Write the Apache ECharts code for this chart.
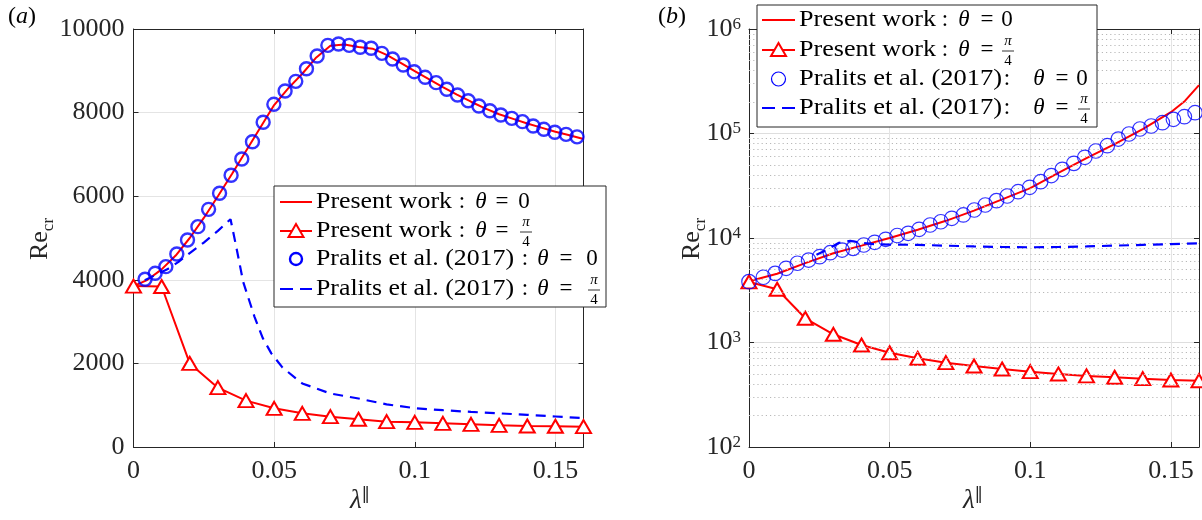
<!DOCTYPE html>
<html><head><meta charset="utf-8">
<script src="https://cdn.jsdelivr.net/npm/echarts@6/dist/echarts.min.js"></script>
<style>html,body{margin:0;padding:0;background:#fff}#c{width:1202px;height:520px}</style>
</head><body><div id="c"></div>
<script>
// ---------- tick values ----------
const xTicks = [0, 0.05, 0.1, 0.15];
const yTicksLin = [0, 2000, 4000, 6000, 8000, 10000];
const yTicksLog = [100, 1000, 10000, 100000, 1000000];
const minorLog = [200,300,400,500,600,700,800,900,2000,3000,4000,5000,6000,7000,8000,9000,
  20000,30000,40000,50000,60000,70000,80000,90000,200000,300000,400000,500000,600000,700000,800000,900000];

// ---------- panel (a) ----------
const lamRedL = [0,0.005,0.01,0.015,0.02,0.025,0.03,0.035,0.04,0.045,0.05,0.055,0.06,0.065,0.07,0.075,0.08,
  0.085,0.09,0.095,0.1,0.105,0.11,0.115,0.12,0.125,0.13,0.135,0.14,0.145,0.15,0.155,0.16];
const redL = [3850,4000,4250,4580,5000,5480,6000,6530,7080,7630,8180,8580,8930,9320,9600,9630,9570,
  9530,9380,9190,8990,8800,8610,8430,8260,8100,7960,7850,7740,7640,7540,7460,7370];
const lamTri = [0,0.01,0.02,0.03,0.04,0.05,0.06,0.07,0.08,0.09,0.1,0.11,0.12,0.13,0.14,0.15,0.16];
const triL = [3850,3840,2000,1420,1110,925,805,726,663,606,590,566,542,518,502,497,486];
const lamCircL = [0.0041,0.0077,0.0115,0.0154,0.0192,0.0229,0.0267,0.0306,0.0347,0.0385,0.0423,0.0461,0.0499,
  0.0539,0.0577,0.0615,0.0653,0.0691,0.0729,0.0767,0.0806,0.0845,0.0883,0.0921,0.0959,0.0998,0.1037,0.1076,
  0.1114,0.1152,0.1190,0.1228,0.1267,0.1306,0.1345,0.1383,0.1421,0.1459,0.1498,0.1538,0.1577];
const circL = [4012,4155,4314,4617,4952,5271,5686,6069,6500,6890,7304,7768,8198,8517,8748,9050,9354,9609,9641,
  9609,9562,9538,9418,9282,9139,8979,8844,8716,8557,8421,8285,8158,8045,7943,7863,7783,7680,7600,7530,7480,7420];
const lamDashL = [0.004,0.008,0.012,0.016,0.02,0.025,0.03,0.0345,0.0365,0.039,0.043,0.046,0.049,0.053,0.06,
  0.07,0.08,0.09,0.1,0.11,0.12,0.13,0.14,0.15,0.16];
const dashL = [3990,4120,4250,4430,4640,4890,5170,5450,4800,3950,3120,2600,2240,1900,1520,
  1280,1160,1020,930,880,840,805,770,730,690];

// ---------- panel (b) ----------
const lamRedR = [0,0.01,0.02,0.03,0.04,0.05,0.06,0.07,0.08,0.09,0.1,0.11,0.12,0.13,0.14,0.15,0.155,0.16];
const redR = [3850,4550,5750,7150,8450,10000,12000,14600,18300,23400,30000,42000,58000,79000,110000,160000,205000,290000];
const triR = [3800,3230,1706,1198,946,798,706,641,596,558,526,500,479,465,451,438,431];
const lamCircR = [0,0.0051,0.0093,0.0132,0.0172,0.0212,0.0251,0.0289,0.0331,0.037,0.0408,0.0447,0.0486,0.0527,
  0.0566,0.0605,0.0644,0.0682,0.0721,0.0762,0.0801,0.084,0.088,0.0918,0.0957,0.0998,0.1037,0.1075,0.1114,0.1155,
  0.1194,0.1233,0.1274,0.1313,0.1351,0.139,0.143,0.147,0.1509,0.1548,0.1586];
const circR = [3820,4210,4590,5130,5730,6150,6620,7230,7670,7960,8570,9100,9720,10570,11090,12110,13310,14310,
  15440,16610,18540,20700,22760,25240,27740,30550,34580,39600,45440,51830,59180,68040,76400,88530,98850,110400,
  118000,126800,136700,144800,158100];
const lamDashR = [0.024,0.028,0.032,0.036,0.04,0.045,0.05,0.06,0.07,0.08,0.09,0.1,0.11,0.12,0.13,0.14,0.15,0.16];
const dashR = [6900,7800,9000,9400,9000,8700,8650,8600,8450,8300,8200,8150,8200,8300,8450,8600,8750,8900];

const legendNames = ['Present work', 'Present work', 'Pralits et al. (2017)', 'Pralits et al. (2017)'];

// ---------- helpers ----------
const SERIF = "'Liberation Serif', 'DejaVu Serif', serif";
const RED = '#ff0000', BLUE = '#0000ff', AX = '#262626';
const zip = (xs, ys) => xs.map((x, i) => [x, ys[i]]);
const cv = document.createElement('canvas').getContext('2d');
function fitScale(s, size, target) { cv.font = size + 'px ' + SERIF; return target / cv.measureText(s).width; }

function xAx(gi, pos) {
  const bottom = pos === 'bottom';
  return {
    type: 'value', gridIndex: gi, position: pos, min: 0, max: 0.16, interval: 0.05,
    axisLine: { show: true, onZero: false, lineStyle: { color: AX, width: 1 } },
    axisTick: { show: true, inside: true, length: 5, lineStyle: { color: AX } },
    axisLabel: {
      show: bottom, margin: 11, color: AX, fontFamily: SERIF, fontSize: 26, showMaxLabel: false,
      formatter: v => (xTicks.some(t => Math.abs(t - v) < 1e-9) ? String(+v.toFixed(2)) : '')
    },
    splitLine: { show: bottom, lineStyle: { color: '#e4e4e4', width: 1 } }
  };
}
function yLin(gi, pos) {
  const left = pos === 'left';
  return {
    type: 'value', gridIndex: gi, position: pos, min: 0, max: 10000, interval: 2000,
    axisLine: { show: true, onZero: false, lineStyle: { color: AX, width: 1 } },
    axisTick: { show: true, inside: true, length: 5, lineStyle: { color: AX } },
    axisLabel: { show: left, margin: 9, color: AX, fontFamily: SERIF, fontSize: 26,
      formatter: v => (yTicksLin.includes(v) ? String(v) : '') },
    splitLine: { show: left, lineStyle: { color: '#e4e4e4', width: 1 } }
  };
}
function yLog(gi, pos) {
  const left = pos === 'left';
  return {
    type: 'log', logBase: 10, gridIndex: gi, position: pos, min: 100, max: 1000000, splitNumber: 4,
    axisLine: { show: true, onZero: false, lineStyle: { color: AX, width: 1 } },
    axisTick: { show: true, inside: true, length: 5, lineStyle: { color: AX } },
    axisLabel: {
      show: left, margin: 8, color: AX, fontFamily: SERIF, fontSize: 26,
      formatter: v => (yTicksLog.some(t => Math.abs(t - v) / t < 1e-6) ? '10{e|' + Math.round(Math.log10(v)) + '}' : ''),
      rich: { e: { fontSize: 17, fontFamily: SERIF, color: AX, verticalAlign: 'top', lineHeight: 14 } }
    },
    splitLine: { show: left, lineStyle: { color: '#dedede', width: 1 } }
  };
}

// ---------- graphics (labels + legends) ----------
const G = [];
function T(x, y, s, o) {
  o = o || {};
  const size = o.size || 23;
  G.push({ type: 'text', x: x, y: y, z: 100, scaleX: o.sx || 1, rotation: o.rot || 0,
    style: { text: s, fill: o.fill || '#000', align: o.align || 'center', verticalAlign: 'middle',
      font: (o.italic ? 'italic ' : '') + size + 'px ' + SERIF, rich: o.rich } });
}
function frac(cx, y) {
  T(cx, y - 9, 'π', { size: 15, italic: true });
  G.push({ type: 'line', z: 100, shape: { x1: cx - 6, y1: y + 1, x2: cx + 6, y2: y + 1 }, style: { stroke: '#000', lineWidth: 0.8 } });
  T(cx, y + 11, '4', { size: 15 });
}
function legend(box, rows, lx1, lx2, texts, pos, circleStyle) {
  G.push({ type: 'rect', z: 99, shape: box, style: { fill: '#fff', stroke: AX, lineWidth: 1 } });
  const mx = (lx1 + lx2) / 2;
  G.push({ type: 'line', z: 100, shape: { x1: lx1, y1: rows[0], x2: lx2, y2: rows[0] }, style: { stroke: RED, lineWidth: 2 } });
  G.push({ type: 'line', z: 100, shape: { x1: lx1, y1: rows[1], x2: lx2, y2: rows[1] }, style: { stroke: RED, lineWidth: 2 } });
  G.push({ type: 'polygon', z: 101, shape: { points: [[mx, rows[1] - 7], [mx + 7.5, rows[1] + 6], [mx - 7.5, rows[1] + 6]] },
    style: { fill: '#fff', stroke: RED, lineWidth: 2 } });
  G.push({ type: 'circle', z: 100, shape: { cx: mx, cy: rows[2], r: circleStyle.r }, style: { fill: 'none', stroke: BLUE, lineWidth: circleStyle.w } });
  G.push({ type: 'line', z: 100, shape: { x1: lx1, y1: rows[3], x2: lx2, y2: rows[3] },
    style: { stroke: BLUE, lineWidth: 2.2, lineDash: [13, 7] } });
  for (let i = 0; i < 4; i++) {
    const p = pos[i];
    T(texts.x, rows[i], legendNames[i], { align: 'left', sx: fitScale(legendNames[i], 23, p.w) });
    T(p.c, rows[i], ':');
    T(p.t, rows[i], 'θ', { italic: true });
    T(p.e, rows[i], '=');
    if (i % 2 === 0) T(p.z, rows[i], '0'); else frac(p.z, rows[i]);
  }
}

T(22, 17, '({i|a})', { size: 24, rich: { i: { fontStyle: 'italic', fontSize: 24, fontFamily: SERIF } } });
T(672, 17, '({i|b})', { size: 24, rich: { i: { fontStyle: 'italic', fontSize: 24, fontFamily: SERIF } } });
const reRich = { b: { fontSize: 26, fontFamily: SERIF, lineHeight: 30, verticalAlign: 'bottom' },
  s: { fontSize: 17, fontFamily: SERIF, lineHeight: 14, verticalAlign: 'bottom', padding: [0, 0, -4, 0] } };
T(38, 239, '{b|Re}{s|cr}', { rot: Math.PI / 2, rich: reRich, fill: AX });
T(690, 239, '{b|Re}{s|cr}', { rot: Math.PI / 2, rich: reRich, fill: AX });
const lamRich = { l: { fontSize: 27, fontStyle: 'italic', fontFamily: SERIF, lineHeight: 30 },
  p: { fontSize: 17, fontFamily: "'DejaVu Serif', serif", verticalAlign: 'top', lineHeight: 16 } };
T(360, 501, '{l|λ}{p|‖}', { rich: lamRich, fill: AX });
T(973, 501, '{l|λ}{p|‖}', { rich: lamRich, fill: AX });

legend({ x: 274, y: 186, width: 332, height: 121 }, [202, 231, 259, 289], 280, 312, { x: 316 }, [
  { w: 136, c: 462, t: 481, e: 502, z: 524 },
  { w: 136, c: 462, t: 481, e: 502, z: 526 },
  { w: 198, c: 525, t: 543, e: 566, z: 592 },
  { w: 198, c: 525, t: 543, e: 566, z: 594 }
], { r: 6, w: 2.4 });
legend({ x: 757, y: 5, width: 340, height: 122 }, [20, 50, 79, 108], 762, 795, { x: 799 }, [
  { w: 137, c: 945, t: 964, e: 987, z: 1007 },
  { w: 137, c: 945, t: 964, e: 987, z: 1008 },
  { w: 203, c: 1007, t: 1039, e: 1062, z: 1082 },
  { w: 203, c: 1007, t: 1039, e: 1062, z: 1084 }
], { r: 7, w: 1.2 });

const chart = echarts.init(document.getElementById('c'), null, { renderer: 'canvas' });
const triStyle = { symbol: 'triangle', symbolSize: [15, 13], itemStyle: { color: '#fff', borderColor: RED, borderWidth: 2 } };
chart.setOption({
  animation: false,
  backgroundColor: '#fff',
  grid: [
    { left: 133.5, top: 29, width: 450, height: 418 },
    { left: 749, top: 29, width: 450, height: 418 }
  ],
  xAxis: [xAx(0, 'bottom'), xAx(0, 'top'), xAx(1, 'bottom'), xAx(1, 'top')],
  yAxis: [yLin(0, 'left'), yLin(0, 'right'), yLog(1, 'left'), yLog(1, 'right')],
  series: [
    { type: 'line', xAxisIndex: 0, yAxisIndex: 0, data: zip(lamRedL, redL), showSymbol: false, z: 3,
      lineStyle: { color: RED, width: 2 } },
    Object.assign({ type: 'line', xAxisIndex: 0, yAxisIndex: 0, data: zip(lamTri, triL), z: 4,
      lineStyle: { color: RED, width: 2 } }, triStyle),
    { type: 'scatter', xAxisIndex: 0, yAxisIndex: 0, data: zip(lamCircL, circL), z: 5, symbol: 'circle', symbolSize: 13,
      itemStyle: { color: 'rgba(0,0,0,0)', borderColor: BLUE, borderWidth: 2.4 } },
    { type: 'line', xAxisIndex: 0, yAxisIndex: 0, data: zip(lamDashL, dashL), showSymbol: false, z: 6,
      lineStyle: { color: BLUE, width: 2.2, type: [10, 7] } },
    { type: 'line', xAxisIndex: 2, yAxisIndex: 2, data: [], z: 1, silent: true,
      markLine: { silent: true, symbol: ['none', 'none'], label: { show: false }, animation: false,
        lineStyle: { type: [1.2, 3], color: '#b8b8b8', width: 1 }, emphasis: { disabled: true },
        data: minorLog.map(v => ({ yAxis: v })) } },
    { type: 'line', xAxisIndex: 2, yAxisIndex: 2, data: zip(lamRedR, redR), showSymbol: false, z: 3,
      lineStyle: { color: RED, width: 2 } },
    Object.assign({ type: 'line', xAxisIndex: 2, yAxisIndex: 2, data: zip(lamTri, triR), z: 4,
      lineStyle: { color: RED, width: 2 } }, triStyle),
    { type: 'scatter', xAxisIndex: 2, yAxisIndex: 2, data: zip(lamCircR, circR), z: 5, symbol: 'circle', symbolSize: 14.5,
      itemStyle: { color: 'rgba(0,0,0,0)', borderColor: BLUE, borderWidth: 1.2 } },
    { type: 'line', xAxisIndex: 2, yAxisIndex: 2, data: zip(lamDashR, dashR), showSymbol: false, z: 6,
      lineStyle: { color: BLUE, width: 2.2, type: [10, 7] } }
  ],
  graphic: G
});
</script>
</body></html>
